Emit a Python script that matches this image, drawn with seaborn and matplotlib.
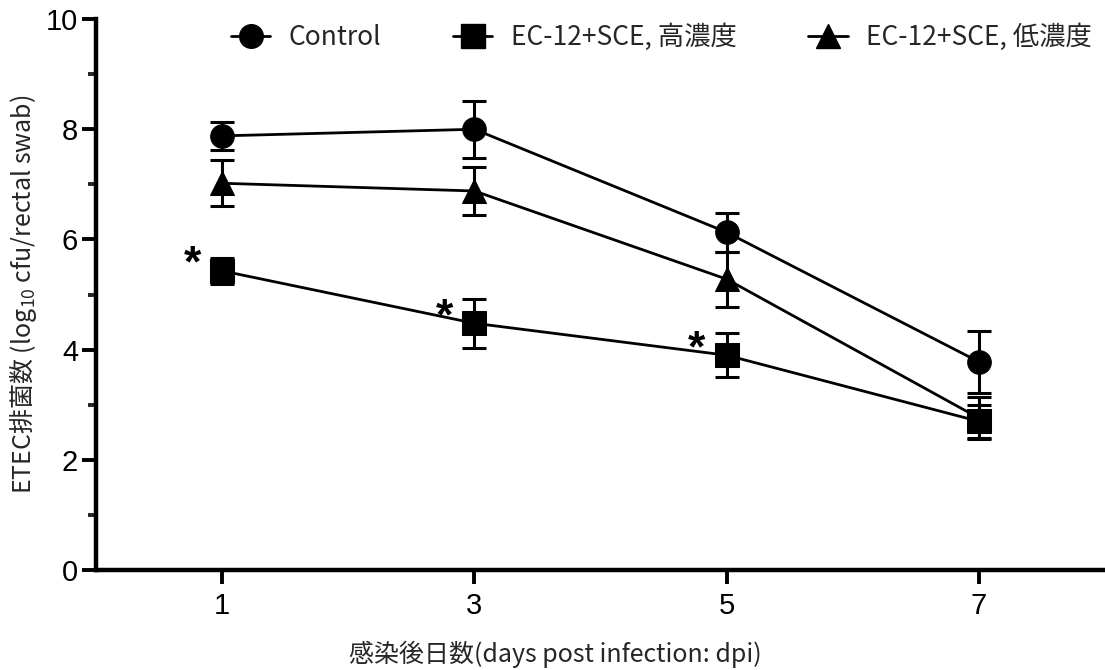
import matplotlib
matplotlib.use("Agg")
import matplotlib.pyplot as plt
from matplotlib.ticker import MultipleLocator
import seaborn as sns
import pandas as pd

days = [1, 3, 5, 7]
groups = ["Control", "EC-12+SCE, 高濃度", "EC-12+SCE, 低濃度"]
control_mean = [7.88, 8.00, 6.13, 3.78]
control_se = [0.26, 0.52, 0.35, 0.56]
high_mean = [5.43, 4.48, 3.90, 2.70]
high_se = [0.23, 0.44, 0.40, 0.30]
low_mean = [7.02, 6.88, 5.28, 2.76]
low_se = [0.42, 0.44, 0.50, 0.38]
significant_high = [True, True, True, False]

sns.set_theme(style="ticks")
plt.rcParams["font.family"] = ["Liberation Sans", "Noto Sans CJK JP", "DejaVu Sans"]

means = [control_mean, high_mean, low_mean]
ses = [control_se, high_se, low_se]
markers = ["o", "s", "^"]

df = pd.DataFrame({
    "day": days * 3,
    "value": control_mean + high_mean + low_mean,
    "group": [g for g in groups for _ in days],
})

fig = plt.figure(figsize=(11.05, 6.7), dpi=100)
ax = fig.add_axes([0.087, 0.149, 0.913, 0.8226])

for m, s in zip(means, ses):
    ax.errorbar(days, m, yerr=s, fmt="none", ecolor="black", elinewidth=2.2,
                capsize=8.5, capthick=2.2, zorder=2)

sns.lineplot(data=df, x="day", y="value", hue="group", style="group",
             palette=["black"] * 3, markers=dict(zip(groups, markers)),
             dashes=False, linewidth=2.0, ax=ax, legend=False, zorder=3,
             markeredgecolor="black", markersize=17)

# significance marks for the high-dose group
for d, m, sig in zip(days, high_mean, significant_high):
    if sig:
        ax.text(d - 0.24, m + 0.1, "*", ha="center", va="center",
                fontsize=32, fontweight="bold", color="black")

ax.set_xlim(0, 8)
ax.set_ylim(0, 10)
ax.set_xticks(days)
ax.yaxis.set_major_locator(MultipleLocator(2))
ax.yaxis.set_minor_locator(MultipleLocator(1))
ax.tick_params(axis="both", which="major", direction="out", width=2.8,
               length=10, labelsize=21, color="black", labelcolor="black")
ax.tick_params(axis="y", which="minor", direction="out", width=2.8, length=6)
ax.tick_params(axis="x", pad=6)
ax.tick_params(axis="y", pad=3)
for sp in ["left", "bottom"]:
    ax.spines[sp].set_linewidth(3.2)
    ax.spines[sp].set_color("black")
for sp in ["top", "right"]:
    ax.spines[sp].set_visible(False)

ax.set_xlabel("感染後日数(days post infection: dpi)", fontsize=18,
              family=["Noto Sans CJK JP"], va="center")
ax.xaxis.set_label_coords(0.455, -0.152)
ax.set_ylabel(r"ETEC排菌数 (log$_\mathregular{10}$ cfu/rectal swab)", fontsize=18,
              family=["Noto Sans CJK JP"], va="center")
ax.yaxis.set_label_coords(-0.072, 0.5)

handles = []
for g, mk in zip(groups, markers):
    h, = ax.plot([], [], color="black", marker=mk, markersize=17,
                 linewidth=2.0, label=g)
    handles.append(h)
ax.legend(handles=handles, loc="center left", bbox_to_anchor=(0.11, 0.967),
          ncol=3, frameon=False, handlelength=1.5,
          columnspacing=2.7, handletextpad=0.7,
          prop={"family": ["Noto Sans CJK JP"], "size": 19})

fig.savefig("out.png", dpi=100)
